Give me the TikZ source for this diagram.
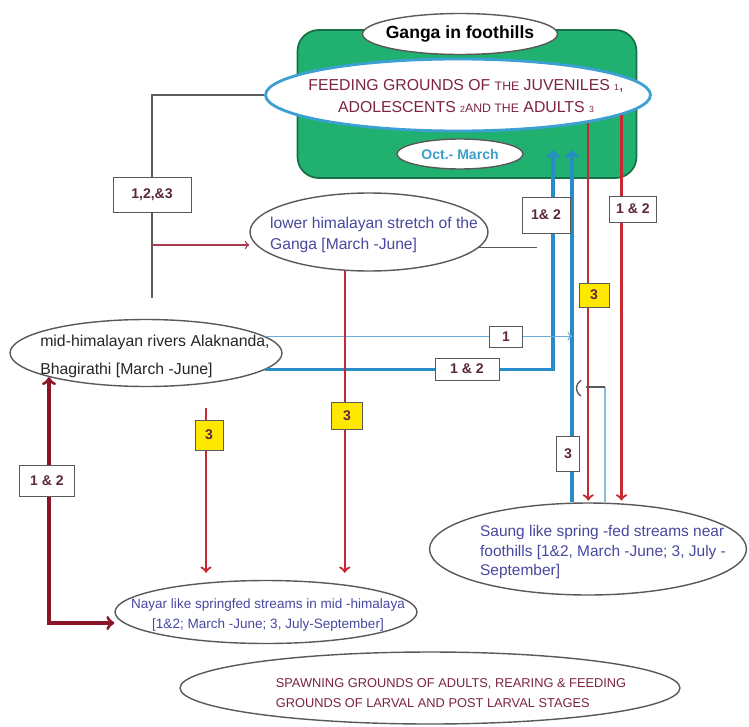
\documentclass[tikz,border=0pt]{standalone}
\usepackage{fontspec}
\setmainfont{Liberation Sans}
\usetikzlibrary{shapes.geometric}

\definecolor{greenfill}{RGB}{32,176,112}
\definecolor{greenedge}{RGB}{22,112,72}
\definecolor{cyanedge}{RGB}{60,160,210}
\definecolor{feedtext}{RGB}{125,35,65}
\definecolor{bluetext}{RGB}{72,72,160}
\definecolor{octtext}{RGB}{60,160,200}
\definecolor{redline}{RGB}{200,40,50}
\definecolor{darkline}{RGB}{140,20,40}
\definecolor{blueline}{RGB}{40,140,200}
\definecolor{lightline}{RGB}{140,190,220}
\definecolor{greyline}{RGB}{90,90,90}
\definecolor{pinkline}{RGB}{170,60,80}
\definecolor{tagyellow}{RGB}{255,232,0}
\definecolor{labtext}{RGB}{90,40,55}

\begin{document}
\begin{tikzpicture}[x=0.02cm, y=-0.02cm,
    oval/.style={ellipse, draw=black!65, thick, fill=white, inner sep=0pt},
    tag/.style={rectangle, draw=black!65, fill=white, inner sep=1pt,
        text=labtext, font=\fontsize{8}{9}\selectfont\bfseries},
    ytag/.style={tag, fill=tagyellow},
    greyln/.style={draw=greyline, line width=0.8pt},
    pinkln/.style={draw=pinkline, line width=0.8pt},
    cyanln/.style={draw=blueline!70, line width=0.8pt},
    lightln/.style={draw=lightline, line width=1pt},
    blueln/.style={draw=blueline, line width=1.8pt},
    redln/.style={draw=redline, line width=1.3pt},
    darkln/.style={draw=darkline, line width=1.8pt}]
\useasboundingbox (0,0) rectangle (749,726);

% foothills block
\node[draw=greenedge, fill=greenfill, line width=1pt, rounded corners=12pt,
    minimum width=6.78cm, minimum height=2.96cm] (foot) at (467,104) {};
\node[oval, minimum width=3.9cm, minimum height=0.82cm] (ganga) at (460,34) {};
\node[font=\fontsize{10}{12}\selectfont\bfseries] (gangatxt) at (460,34) {Ganga in foothills};
\node[oval, draw=cyanedge, line width=1.6pt, minimum width=7.7cm, minimum height=1.44cm] (feed) at (458,95) {};
\node[text=feedtext, align=center, font=\fontsize{9}{13}\selectfont] (feedtxt) at (466,96)
    {FEEDING GROUNDS OF {\scriptsize THE} JUVENILES {\tiny 1},\\
     ADOLESCENTS {\tiny 2}{\scriptsize AND THE} ADULTS {\tiny 3}};
\node[oval, minimum width=2.52cm, minimum height=0.6cm] (oct) at (460,154) {};
\node[text=octtext, font=\fontsize{8}{9}\selectfont\bfseries] (octtxt) at (460,154) {Oct.- March};

% stretches
\node[oval, minimum width=4.76cm, minimum height=1.56cm] (lower) at (369,232) {};
\node[text=bluetext, align=left, font=\fontsize{8.9}{11.5}\selectfont] (lowertxt) at (374,235)
    {lower himalayan stretch of the\\Ganga [March -June]};
\node[oval, minimum width=5.44cm, minimum height=1.34cm] (mid) at (146,353) {};
\node[text=black!85, align=left, font=\fontsize{9}{16}\selectfont] (midtxt) at (155,356)
    {mid-himalayan rivers Alaknanda,\\Bhagirathi [March -June]};
\node[oval, minimum width=6.34cm, minimum height=1.84cm] (saung) at (588,549) {};
\node[text=bluetext, align=left, font=\fontsize{8.8}{11}\selectfont] (saungtxt) at (603,552)
    {Saung like spring -fed streams near\\foothills [1\&2, March -June; 3, July -\\September]};
\node[oval, minimum width=6.04cm, minimum height=1.26cm] (nayar) at (266,612) {};
\node[text=bluetext, align=center, font=\fontsize{7.7}{11.3}\selectfont] (nayartxt) at (268,615)
    {Nayar like springfed streams in mid -himalaya\\{}[1\&2; March -June; 3, July-September]};
\node[oval, minimum width=10cm, minimum height=1.44cm] (spawn) at (430,688) {};
\node[text=feedtext, align=left, font=\fontsize{7.3}{11.3}\selectfont] (spawntxt) at (451,693)
    {SPAWNING GROUNDS OF ADULTS, REARING \& FEEDING\\GROUNDS OF LARVAL AND POST LARVAL STAGES};

% 1,2,&3 branch
\node[tag, minimum width=1.56cm, minimum height=0.7cm] (l123) at (152,195) {1,2,\&3};
\draw[greyln] (feed.west) -| (l123.north);
\coordinate (stub) at (152,298);
\draw[greyln] (l123.south) -- (stub);
\coordinate (fork) at (152,245);
\draw[pinkln, ->] (fork) -- (fork -| lower.west);
\draw[greyln] (lower.-8) -- ++(58,0);

% towards the foothills
\coordinate (b1) at (553,150);
\coordinate (b2) at (572,150);
\draw[blueln, ->] (mid.-8) -| (b1);
\draw[blueln, ->] (b2 |- saung.north) -- (b2);
\draw[cyanln, ->] (mid.8) -- (mid.8 -| b2);

% down from the foothills
\draw[redln, ->, shorten >=1pt] (feed.-12.3) -- (feed.-12.3 |- saung.north);
\draw[redln, ->, shorten >=1pt] (feed.-7.3) -- (feed.-7.3 |- saung.north);
\coordinate (hook) at (605,387);
\draw[lightln] (hook) -- (hook |- saung.north);
\draw[greyln] (hook) -- ++(-19,0);
\draw[greyln] (581,396) arc[start angle=120, end angle=240, radius=9];

% down to nayar
\draw[redln, ->, shorten >=4pt] (lower.-122) -- (lower.-122 |- nayar.north);
\coordinate (drop) at (206,408);
\draw[redln, ->, shorten >=4pt] (drop) -- (drop |- nayar.north);
\coordinate (corner) at (49,623);
\draw[darkln, <->] (corner |- mid.194) -- (corner) -- (corner -| nayar.west);

% tags on the lines
\node[tag, minimum width=0.96cm, minimum height=0.72cm] (l12a) at (546,215) {1\& 2};
\node[tag, minimum width=0.94cm, minimum height=0.52cm] (l12b) at (633,209) {1 \& 2};
\node[ytag, minimum width=0.6cm, minimum height=0.48cm] (l3a) at (594,295) {3};
\node[tag, minimum width=0.66cm, minimum height=0.42cm] (l1) at (506,337) {1};
\node[tag, minimum width=1.28cm, minimum height=0.44cm] (l12c) at (467,369) {1 \& 2};
\node[tag, minimum width=0.46cm, minimum height=0.7cm] (l3b) at (568,454) {3};
\node[ytag, minimum width=0.62cm, minimum height=0.54cm] (l3c) at (347,416) {3};
\node[ytag, minimum width=0.56cm, minimum height=0.6cm] (l3d) at (209,435) {3};
\node[tag, minimum width=1.1cm, minimum height=0.62cm] (l12d) at (47,481) {1 \& 2};
\end{tikzpicture}
\end{document}
